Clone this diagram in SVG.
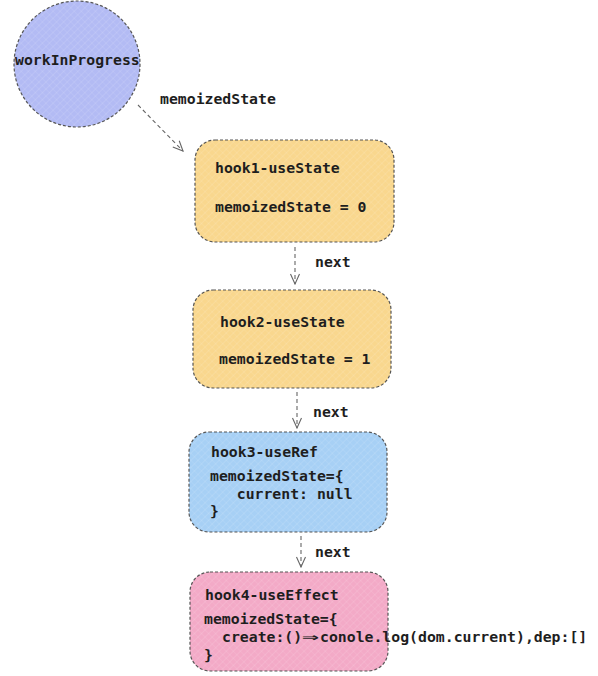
<svg xmlns="http://www.w3.org/2000/svg" width="598" height="676" viewBox="0 0 598 676">
<style>
  text { font-family: "DejaVu Sans Mono", "Liberation Mono", monospace; font-size: 14.8px; font-weight: bold; fill: #1e1e1e; }
  .node { stroke: #555; stroke-width: 1.2; stroke-dasharray: 3 2; }
  .hatch { fill: url(#hatch); stroke: none; }
  .conn { stroke: #666; stroke-width: 1.1; stroke-dasharray: 4 3; fill: none; }
</style>
<defs>
  <pattern id="hatch" width="5" height="5" patternUnits="userSpaceOnUse" patternTransform="rotate(45)">
    <line x1="0" y1="0" x2="0" y2="5" stroke="#ffffff" stroke-opacity="0.22" stroke-width="1"/>
    <line x1="0" y1="0" x2="5" y2="0" stroke="#ffffff" stroke-opacity="0.14" stroke-width="1"/>
  </pattern>
  <marker id="arrow" viewBox="0 0 12 12" refX="11" refY="6" markerWidth="12" markerHeight="12" markerUnits="userSpaceOnUse" orient="auto">
    <path d="M1,1.5 L11,6 L1,10.5" fill="none" stroke="#666" stroke-width="1.1"/>
  </marker>
</defs>
<rect width="598" height="676" fill="#ffffff"/>
<g id="connectors">
  <line class="conn" x1="138" y1="105" x2="183" y2="151" marker-end="url(#arrow)"/>
  <line class="conn" x1="295" y1="247" x2="295" y2="284" marker-end="url(#arrow)"/>
  <line class="conn" x1="297" y1="392" x2="297" y2="428" marker-end="url(#arrow)"/>
  <line class="conn" x1="301" y1="536" x2="301" y2="567" marker-end="url(#arrow)"/>
  <text x="160" y="104">memoizedState</text>
  <text x="315" y="267">next</text>
  <text x="313" y="417">next</text>
  <text x="315" y="557">next</text>
</g>
<g id="workInProgress">
  <circle class="node" cx="77" cy="64" r="63" fill="#b3bbf4"/>
  <circle class="hatch" cx="77" cy="64" r="62"/>
  <text x="15" y="65">workInProgress</text>
</g>
<g id="hook1">
  <rect class="node" x="195" y="140" width="199" height="102" rx="20" fill="#f9d78e"/>
  <rect class="hatch" x="196" y="141" width="197" height="100" rx="19"/>
  <text x="215" y="173">hook1-useState</text>
  <text x="215" y="212">memoizedState = 0</text>
</g>
<g id="hook2">
  <rect class="node" x="193" y="290" width="198" height="98" rx="20" fill="#f9d78e"/>
  <rect class="hatch" x="194" y="291" width="196" height="96" rx="19"/>
  <text x="220" y="327">hook2-useState</text>
  <text x="219" y="364">memoizedState = 1</text>
</g>
<g id="hook3">
  <rect class="node" x="189" y="432" width="198" height="100" rx="20" fill="#a7d0f5"/>
  <rect class="hatch" x="190" y="433" width="196" height="98" rx="19"/>
  <text x="211" y="457">hook3-useRef</text>
  <text x="210" y="481">memoizedState={</text>
  <text x="210" y="499" xml:space="preserve">   current: null</text>
  <text x="210" y="516">}</text>
</g>
<g id="hook4">
  <rect class="node" x="190" y="572" width="198" height="99" rx="20" fill="#f3aac7"/>
  <rect class="hatch" x="191" y="573" width="196" height="97" rx="19"/>
  <text x="205" y="600">hook4-useEffect</text>
  <text x="204" y="624">memoizedState={</text>
  <text y="642"><tspan x="222">create:()</tspan><tspan x="302" textLength="17" lengthAdjust="spacingAndGlyphs">⇒</tspan><tspan x="320">conole.log(dom.current),dep:[]</tspan></text>
  <text x="204" y="660">}</text>
</g>
</svg>
